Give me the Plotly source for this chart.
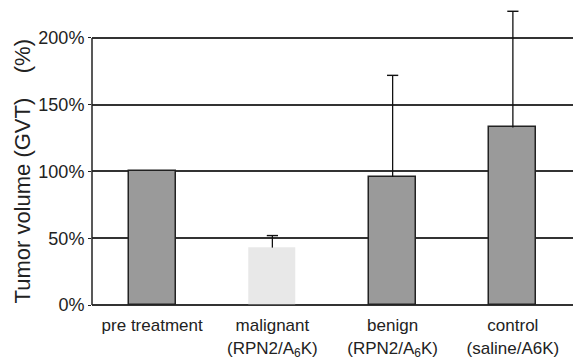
import plotly.graph_objects as go

categories = ["pre treatment", "malignant<br>(RPN2/A<sub>6</sub>K)",
              "benign<br>(RPN2/A<sub>6</sub>K)", "control<br>(saline/A6K)"]
values = [100, 43, 96, 133]
errors = [None, 9, 76, 87]
bar_colors = ["#9a9a9a", "#e8e8e8", "#9a9a9a", "#9a9a9a"]
line_colors = ["#222222", "rgba(0,0,0,0)", "#222222", "#222222"]
y_ticks = [0, 50, 100, 150, 200]
y_ticklabels = ["0%", "50%", "100%", "150%", "200%"]
y_title = "Tumor volume (GVT)\u00a0\u00a0\u00a0\u00a0(%)"

x_idx = list(range(len(categories)))
fig = go.Figure()
fig.add_trace(go.Bar(
    x=x_idx, y=values,
    marker=dict(color=bar_colors, line=dict(color=line_colors, width=1.5)),
    width=0.39,
    error_y=dict(type="data", array=errors, arrayminus=[0]*4, symmetric=False,
                 color="#111111", thickness=1.3, width=0),
))
# caps on top of error bars
cap_x = [i for i, e in zip(x_idx, errors) if e is not None]
cap_y = [v + e for v, e in zip(values, errors) if e is not None]
fig.add_trace(go.Scatter(
    x=cap_x, y=cap_y, mode="markers",
    marker=dict(symbol="line-ew", size=8, line=dict(color="#111111", width=1.4)),
    hoverinfo="skip",
))
# y axis line only from 0% to 200%
fig.add_shape(type="line", xref="paper", yref="y", x0=0, x1=0, y0=0, y1=y_ticks[-1],
              line=dict(color="#222222", width=1.5))
fig.add_annotation(text=y_title, xref="paper", yref="paper", x=-0.1435, y=0.445,
                   textangle=-90, showarrow=False, font=dict(size=22),
                   xanchor="center", yanchor="middle")
fig.update_layout(
    width=573, height=364,
    margin=dict(l=92, r=0, t=5, b=59),
    plot_bgcolor="white", paper_bgcolor="white",
    showlegend=False,
    font=dict(family="Liberation Sans, Arial", size=17, color="#222222"),
    bargap=0,
)
fig.update_xaxes(
    range=[-0.5, 3.5], tickmode="array", tickvals=x_idx, ticktext=categories,
    showgrid=False, showline=False, ticks="outside", ticklen=5, tickcolor="rgba(0,0,0,0)",
    tickfont=dict(size=17), zeroline=False, automargin=False,
)
fig.update_yaxes(
    range=[0, 224.7], tickmode="array", tickvals=y_ticks, ticktext=y_ticklabels,
    showgrid=True, gridcolor="#333333", gridwidth=1.5,
    showline=False, automargin=False,
    ticks="outside", ticklen=3, tickcolor="#222222",
    zeroline=True, zerolinecolor="#333333", zerolinewidth=1.5,
    tickfont=dict(size=18),
)
fig.write_html("out.html")
